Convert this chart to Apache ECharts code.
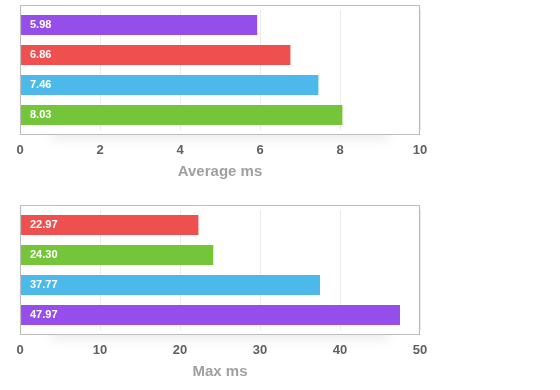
<!DOCTYPE html>
<html>
<head>
<meta charset="utf-8">
<script src="https://cdn.jsdelivr.net/npm/echarts@6/dist/echarts.min.js"></script>
<style>html,body{margin:0;padding:0;background:#fff}#c{width:560px;height:390px}</style>
</head>
<body>
<div id="c"></div>
<script>
// Average ms chart
const avgCategories = ['Purple', 'Red', 'Blue', 'Green'];
const avgValues = [5.93, 6.76, 7.46, 8.06];
const avgLabels = ['5.98', '6.86', '7.46', '8.03'];
const avgTicks = [0, 2, 4, 6, 8, 10];
// Max ms chart
const maxCategories = ['Red', 'Green', 'Blue', 'Purple'];
const maxValues = [22.3, 24.16, 37.5, 47.5];
const maxLabels = ['22.97', '24.30', '37.77', '47.97'];
const maxTicks = [0, 10, 20, 30, 40, 50];

const colorMap = {Purple: '#964eeb', Red: '#ee4f4f', Blue: '#4db9ea', Green: '#75c53a'};
const FONT = '"Liberation Sans", Arial, Helvetica, sans-serif';

const chart = echarts.init(document.getElementById('c'));

const panels = [
  {cats: avgCategories, vals: avgValues, labels: avgLabels, ticks: avgTicks, name: 'Average ms', top: 10, borderTop: 5},
  {cats: maxCategories, vals: maxValues, labels: maxLabels, ticks: maxTicks, name: 'Max ms', top: 210, borderTop: 205}
];

const grids = [], xAxes = [], yAxes = [], series = [], graphics = [];
panels.forEach((p, i) => {
  grids.push({left: 20, width: 400, top: p.top, height: 120, containLabel: false});
  const tmin = p.ticks[0], tmax = p.ticks[p.ticks.length - 1];
  xAxes.push({
    type: 'value', gridIndex: i, min: tmin, max: tmax, interval: p.ticks[1] - p.ticks[0],
    name: p.name, nameLocation: 'middle', nameGap: 34,
    nameTextStyle: {color: '#a0a0a0', fontSize: 15, fontWeight: 'bold', fontFamily: FONT},
    axisLine: {show: false}, axisTick: {show: false},
    axisLabel: {color: '#606060', fontSize: 13, fontWeight: 'bold', fontFamily: FONT, margin: 14},
    splitLine: {show: true, lineStyle: {color: '#ebebeb', width: 1}}
  });
  yAxes.push({
    type: 'category', gridIndex: i, data: p.cats, inverse: true,
    axisLine: {show: false}, axisTick: {show: false}, axisLabel: {show: false}, splitLine: {show: false}
  });
  series.push({
    type: 'bar', xAxisIndex: i, yAxisIndex: i, barWidth: 20,
    data: p.vals.map((v, k) => ({value: v, itemStyle: {color: colorMap[p.cats[k]]}})),
    label: {
      show: true, position: 'insideLeft', distance: 10, color: '#fff', fontSize: 11, fontWeight: 'bold', fontFamily: FONT,
      formatter: (d) => p.labels[d.dataIndex]
    }
  });
  graphics.push({
    type: 'rect', z: -10, shape: {x: 50, y: p.borderTop + 100, width: 340, height: 29},
    style: {fill: '#fff', shadowBlur: 12, shadowOffsetY: 6, shadowColor: 'rgba(0,0,0,0.07)'}
  });
  graphics.push({
    type: 'rect', z: -9, shape: {x: 20, y: p.borderTop, width: 399, height: 129},
    style: {fill: '#fff'}
  });
  graphics.push({
    type: 'rect', z: 100, shape: {x: 20.5, y: p.borderTop + 0.5, width: 399, height: 129},
    style: {fill: 'none', stroke: '#bdbdbd', lineWidth: 1.2}
  });
});

chart.setOption({
  animation: false,
  grid: grids, xAxis: xAxes, yAxis: yAxes, series: series,
  graphic: graphics
});
</script>
</body>
</html>
